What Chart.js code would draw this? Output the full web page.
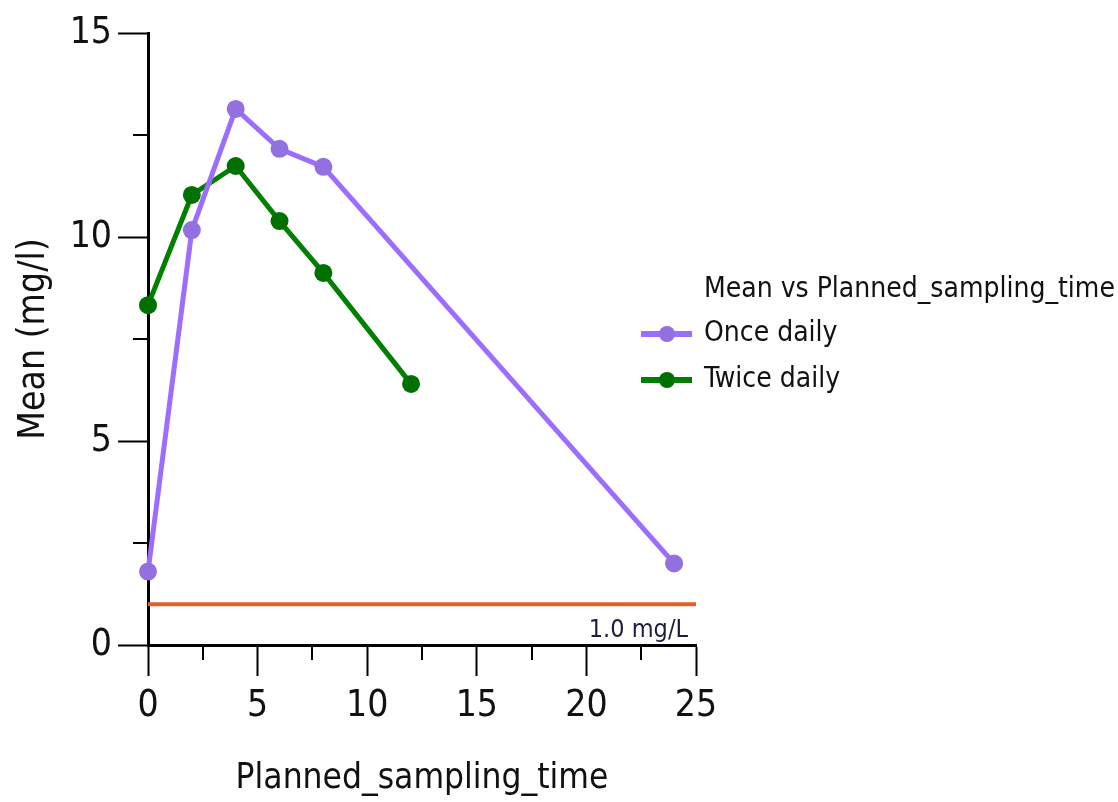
<!DOCTYPE html>
<html>
<head>
<meta charset="utf-8">
<script src="https://cdn.jsdelivr.net/npm/chart.js@4.4.1/dist/chart.umd.min.js"></script>
<style>
  html, body { margin: 0; padding: 0; background: #fff; }
  #wrap { width: 1118px; height: 802px; }
</style>
</head>
<body>
<div id="wrap"><canvas id="grafico" width="1118" height="802"></canvas></div>
<script>
// Datos
const tiempoUnaVez = [0, 2, 4, 6, 8, 24];
const mediaUnaVez = [1.8, 10.17, 13.14, 12.16, 11.72, 2.0];
const tiempoDosVeces = [0, 2, 4, 6, 8, 12];
const mediaDosVeces = [8.33, 11.03, 11.74, 10.39, 9.12, 6.4];
const nombresSeries = ['Once daily', 'Twice daily'];
const tituloLeyenda = 'Mean vs Planned_sampling_time';
const nivelReferencia = 1.0;
const etiquetaReferencia = '1.0 mg/L';
const rangoX = [0, 25];
const rangoY = [0, 15];

const fuente = "'DejaVu Sans Condensed', 'Liberation Sans', Arial, sans-serif";
const colores = {
  unaLinea: '#9d6dff', unaPunto: '#9370e0',
  dosLinea: '#008000', dosPunto: '#007000',
  ref: '#e0602a'
};

function aPuntos(xs, ys) {
  return xs.map((x, i) => ({ x: x, y: ys[i] }));
}

// Marcas menores (a mitad de cada paso) en ambos ejes
const marcasMenores = {
  id: 'marcasMenores',
  afterDraw(chart) {
    const ctx = chart.ctx;
    const sx = chart.scales.x, sy = chart.scales.y;
    const area = chart.chartArea;
    ctx.save();
    ctx.strokeStyle = '#000';
    ctx.lineWidth = 2;
    for (let v = 2.5; v < rangoX[1]; v += 5) {
      const px = Math.round(sx.getPixelForValue(v));
      ctx.beginPath(); ctx.moveTo(px, area.bottom); ctx.lineTo(px, area.bottom + 15); ctx.stroke();
    }
    for (let v = 2.5; v < rangoY[1]; v += 5) {
      const py = Math.round(sy.getPixelForValue(v));
      ctx.beginPath(); ctx.moveTo(area.left, py); ctx.lineTo(area.left - 15, py); ctx.stroke();
    }
    // etiqueta de la línea de referencia
    ctx.fillStyle = '#1e1e3c';
    ctx.font = '25px ' + fuente;
    ctx.textAlign = 'right';
    ctx.textBaseline = 'alphabetic';
    ctx.fillText(etiquetaReferencia, area.right - 8, area.bottom - 8);
    ctx.restore();
  }
};

// Leyenda a la derecha del área del gráfico
const leyenda = {
  id: 'leyenda',
  afterDraw(chart) {
    const ctx = chart.ctx;
    const area = chart.chartArea;
    const x0 = area.right - 55;
    const y0 = 290;
    ctx.save();
    ctx.font = '28px ' + fuente;
    ctx.fillStyle = '#111';
    ctx.textBaseline = 'middle';
    ctx.textAlign = 'left';
    ctx.fillText(tituloLeyenda, x0 + 63, y0);
    const series = [
      [colores.unaLinea, colores.unaPunto],
      [colores.dosLinea, colores.dosPunto]
    ];
    series.forEach((c, i) => {
      const y = y0 + 44 + i * 46;
      ctx.strokeStyle = c[0];
      ctx.lineWidth = 6;
      ctx.beginPath(); ctx.moveTo(x0, y); ctx.lineTo(x0 + 51, y); ctx.stroke();
      ctx.fillStyle = c[1];
      ctx.beginPath(); ctx.arc(x0 + 26, y, 8, 0, Math.PI * 2); ctx.fill();
      ctx.fillStyle = '#111';
      ctx.fillText(nombresSeries[i], x0 + 63, y);
    });
    ctx.restore();
  }
};

const ctxGrafico = document.getElementById('grafico').getContext('2d');
const grafico = new Chart(ctxGrafico, {
  type: 'scatter',
  data: {
    datasets: [
      {
        label: nombresSeries[0],
        data: aPuntos(tiempoUnaVez, mediaUnaVez),
        showLine: true,
        borderColor: colores.unaLinea,
        backgroundColor: colores.unaPunto,
        pointBackgroundColor: colores.unaPunto,
        pointBorderWidth: 0,
        borderWidth: 5,
        pointRadius: 9,
        clip: false
      },
      {
        label: nombresSeries[1],
        data: aPuntos(tiempoDosVeces, mediaDosVeces),
        showLine: true,
        borderColor: colores.dosLinea,
        backgroundColor: colores.dosPunto,
        pointBackgroundColor: colores.dosPunto,
        pointBorderWidth: 0,
        borderWidth: 5,
        pointRadius: 9,
        clip: false
      },
      {
        label: 'ref',
        data: [{ x: rangoX[0], y: nivelReferencia }, { x: rangoX[1], y: nivelReferencia }],
        showLine: true,
        borderColor: colores.ref,
        borderWidth: 4,
        pointRadius: 0,
        clip: false
      }
    ]
  },
  options: {
    responsive: false,
    animation: false,
    devicePixelRatio: 1,
    layout: { padding: { top: 33, right: 422, left: 0, bottom: 0 } },
    plugins: {
      legend: { display: false },
      tooltip: { enabled: false }
    },
    scales: {
      x: {
        type: 'linear',
        min: rangoX[0], max: rangoX[1],
        z: 1,
        afterFit: (s) => { s.height = 157; },
        ticks: { stepSize: 5, color: '#111', font: { family: fuente, size: 37 }, padding: 8, maxRotation: 0 },
        grid: { drawOnChartArea: false, drawTicks: true, tickLength: 31, color: '#000', tickWidth: 2 },
        border: { color: '#000', width: 3 },
        title: { display: true, text: 'Planned_sampling_time', color: '#111', font: { family: fuente, size: 35 }, padding: { top: 0, bottom: 2 } }
      },
      y: {
        type: 'linear',
        min: rangoY[0], max: rangoY[1],
        z: 1,
        afterFit: (s) => { s.width = 148; },
        ticks: { stepSize: 5, color: '#111', font: { family: fuente, size: 37 }, padding: 6 },
        grid: { drawOnChartArea: false, drawTicks: true, tickLength: 30, color: '#000', tickWidth: 2 },
        border: { color: '#000', width: 3 },
        title: { display: true, text: 'Mean (mg/l)', color: '#111', font: { family: fuente, size: 37 }, padding: { top: 12, bottom: 0 } }
      }
    }
  },
  plugins: [marcasMenores, leyenda]
});
</script>
</body>
</html>
